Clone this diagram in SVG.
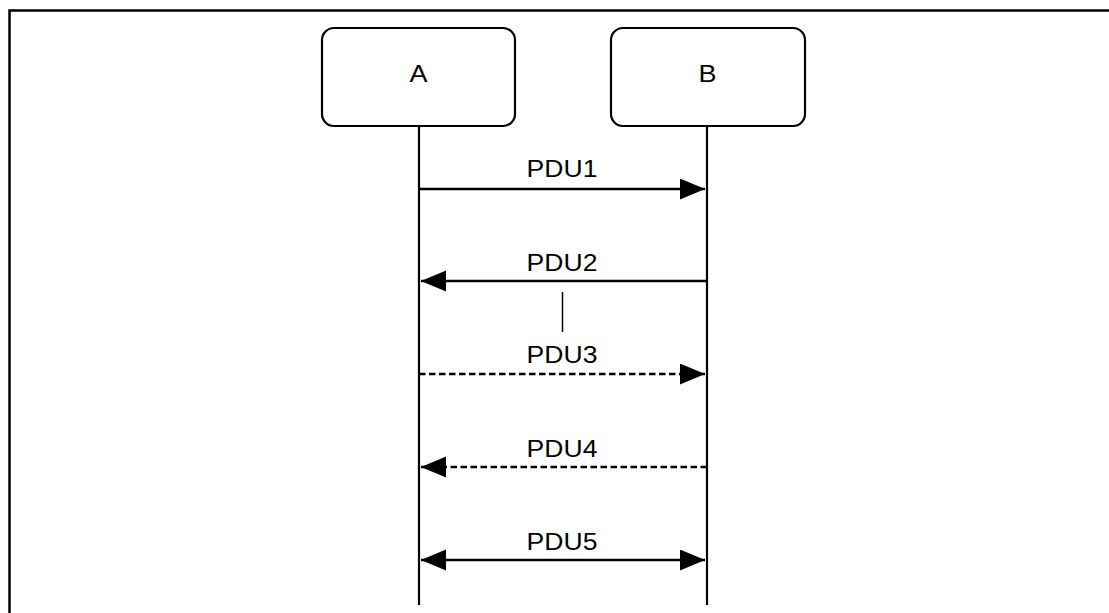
<svg xmlns="http://www.w3.org/2000/svg" width="1109" height="613" viewBox="0 0 1109 613">
  <style>
    .frame { fill: none; stroke: #000; stroke-width: 2.5; }
    .box { fill: #fff; stroke: #000; stroke-width: 2.2; }
    .life { stroke: #000; stroke-width: 2.2; fill: none; }
    .msg { stroke: #000; stroke-width: 2.5; fill: none; }
    .dash { stroke-dasharray: 6.5 3.5; }
    .lbl { font-family: "Liberation Sans", Arial, sans-serif; font-size: 23.5px; fill: #000; text-anchor: middle; }
  </style>
  <defs>
    <marker id="head" markerUnits="userSpaceOnUse" markerWidth="26" markerHeight="22" refX="25" refY="10.5" orient="auto-start-reverse">
      <path d="M0,0 L25,10.5 L0,21 z" fill="#000"/>
    </marker>
  </defs>
  <rect width="1109" height="613" fill="#fff"/>
  <path class="frame" d="M9.5,620 V10.5 H1112"/>

  <g id="node-A">
    <rect class="box" x="322" y="28" width="193" height="98" rx="12"/>
    <g transform="translate(418.5,82) scale(1.15,1)"><text class="lbl" x="0" y="0">A</text></g>
  </g>
  <g id="node-B">
    <rect class="box" x="611" y="28" width="194" height="98" rx="12"/>
    <g transform="translate(707.5,82) scale(1.15,1)"><text class="lbl" x="0" y="0">B</text></g>
  </g>

  <g id="connectors">
    <line class="life" x1="419" y1="126" x2="419" y2="605"/>
    <line class="life" x1="707" y1="126" x2="707" y2="605"/>

    <line class="msg" x1="419" y1="189" x2="705" y2="189" marker-end="url(#head)"/>
    <line class="msg" x1="707" y1="281" x2="421" y2="281" marker-end="url(#head)"/>
    <line stroke="#000" stroke-width="1.5" x1="562.5" y1="292" x2="562.5" y2="332"/>
    <line class="msg dash" x1="419" y1="374" x2="705" y2="374" marker-end="url(#head)"/>
    <line class="msg dash" x1="707" y1="467" x2="421" y2="467" marker-end="url(#head)"/>
    <line class="msg" x1="421" y1="560" x2="705" y2="560" marker-start="url(#head)" marker-end="url(#head)"/>

    <g transform="translate(562,177) scale(1.13,1)"><text class="lbl" x="0" y="0">PDU1</text></g>
    <g transform="translate(562,271) scale(1.13,1)"><text class="lbl" x="0" y="0">PDU2</text></g>
    <g transform="translate(562,363) scale(1.13,1)"><text class="lbl" x="0" y="0">PDU3</text></g>
    <g transform="translate(562,457) scale(1.13,1)"><text class="lbl" x="0" y="0">PDU4</text></g>
    <g transform="translate(562,550) scale(1.13,1)"><text class="lbl" x="0" y="0">PDU5</text></g>
  </g>
</svg>
